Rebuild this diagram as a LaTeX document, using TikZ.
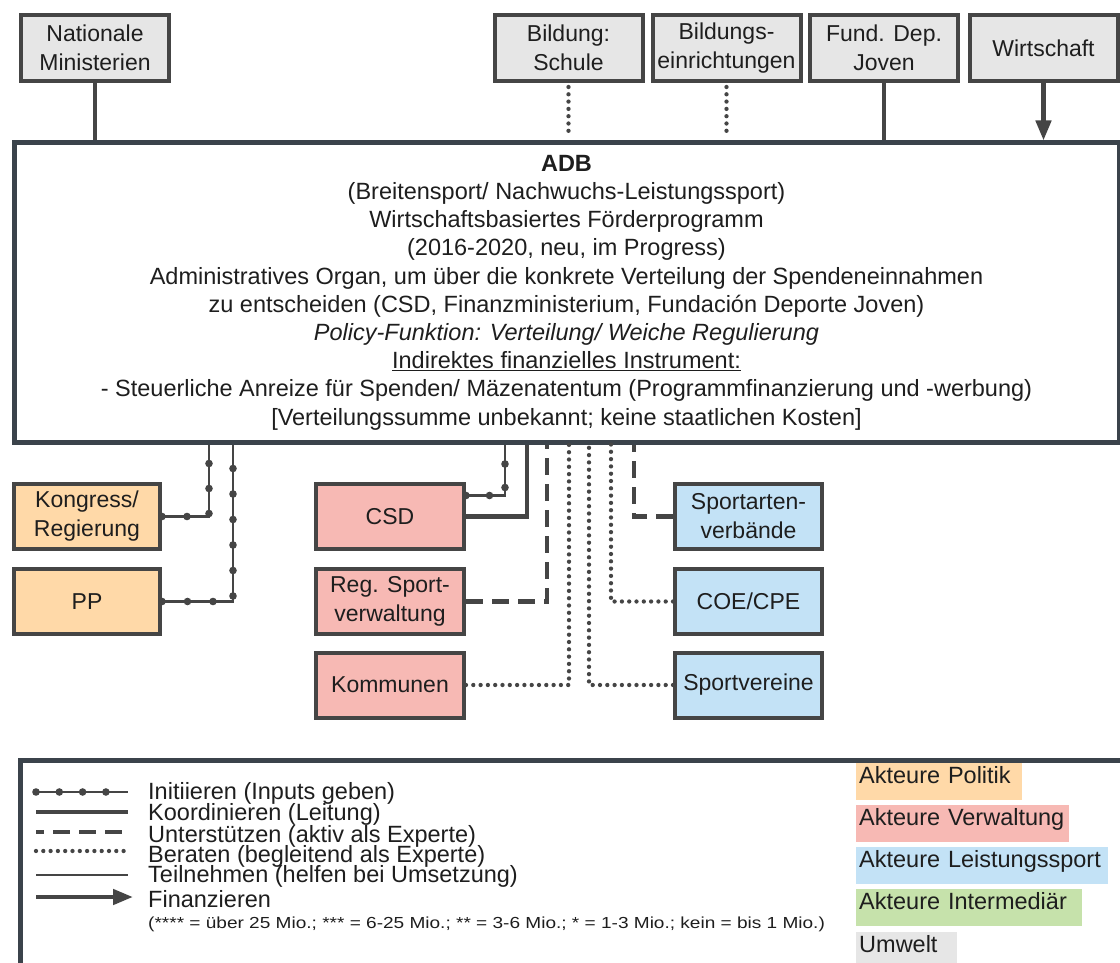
\documentclass[tikz,border=0pt]{standalone}
\usepackage{fontspec}
\setmainfont{Liberation Sans}
\usetikzlibrary{arrows.meta,decorations.markings,calc}

\definecolor{edge}{HTML}{454545}
\definecolor{frame}{HTML}{3B434B}
\definecolor{envfill}{HTML}{E6E6E6}
\definecolor{polfill}{HTML}{FFD9A8}
\definecolor{admfill}{HTML}{F7B9B4}
\definecolor{perffill}{HTML}{C3E2F6}
\definecolor{intfill}{HTML}{C6E2AB}
\definecolor{txt}{HTML}{1E1E1E}

\tikzset{
  actor/.style={draw=edge, line width=4pt, minimum height=66pt, inner sep=0pt,
    align=center, text=txt, font=\fontsize{23}{29}\selectfont},
  env/.style={actor, fill=envfill, minimum width=148pt},
  pol/.style={actor, fill=polfill, minimum width=146pt, minimum height=65pt},
  adm/.style={actor, fill=admfill, minimum width=148pt, minimum height=65pt},
  perf/.style={actor, fill=perffill, minimum width=147pt, minimum height=65pt},
  % relation types
  koord/.style={draw=edge, line width=4.5pt},
  teiln/.style={draw=edge, line width=2.5pt},
  unterst/.style={draw=edge, line width=4.5pt, dash pattern=on 17pt off 9pt},
  berat/.style={draw=edge, line width=4.3pt, line cap=round, dash pattern=on 0pt off 7.3pt},
  finanz/.style={draw=edge, line width=4.5pt, -{Triangle[length=20pt,width=15pt]}},
  initiate/.style={draw=edge, line width=2.5pt, postaction={decorate},
    decoration={markings, mark=between positions 0 and -10pt step #1 with {\fill[edge] (0,0) circle (3.8pt);}}},
  initiate/.default=25pt,
  swatch/.style={anchor=base west, inner xsep=3pt, inner ysep=0pt, text height=20pt,
    text depth=17pt, align=left, text=txt, font=\fontsize{23.5}{28}\selectfont},
  legtext/.style={anchor=base west, inner sep=0pt, text=txt, font=\fontsize{23.5}{21}\selectfont},
}

\begin{document}
\begin{tikzpicture}[x=1pt,y=-1pt]
\useasboundingbox (0,0) rectangle (1120,963);
\clip (0,0) rectangle (1120,963);
\fill[white] (0,0) rectangle (1120,963);

% environment actors on top
\node[env] (nat) at (95,48)     {Nationale\\Ministerien};
\node[env] (bs)  at (568.5,48)  {Bildung:\\Schule};
\node[env] (be)  at (726.5,48)  {Bildungs-\\einrichtungen};
\node[env] (fd)  at (884,48)    {Fund. Dep.\\Joven};
\node[env] (wi)  at (1043.5,48) {Wirtschaft};

% central programme box
\node[draw=frame, line width=5pt, fill=white, minimum width=1105pt, minimum height=299pt,
      inner sep=0pt, align=center, text=txt, font=\fontsize{23.5}{28.2}\selectfont]
  (adb) at (566.5,292.5)
  {\textbf{ADB}\\
   (Breitensport/ Nachwuchs-Leistungssport)\\
   Wirtschaftsbasiertes Förderprogramm\\
   (2016-2020, neu, im Progress)\\
   Administratives Organ, um über die konkrete Verteilung der Spendeneinnahmen\\
   zu entscheiden (CSD, Finanzministerium, Fundación Deporte Joven)\\
   \textit{Policy-Funktion: Verteilung/ Weiche Regulierung}\\
   \underline{Indirektes finanzielles Instrument:}\\
   - Steuerliche Anreize für Spenden/ Mäzenatentum (Programmfinanzierung und -werbung)\\
   {[}Verteilungssumme unbekannt; keine staatlichen Kosten{]}};

% actors below
\node[pol]  (kon) at (87,516.5)    {Kongress/\\Regierung};
\node[pol]  (pp)  at (87,601.5)    {PP};
\node[adm]  (csd) at (390,516.5)   {CSD};
\node[adm]  (reg) at (390,601.5)   {Reg. Sport-\\verwaltung};
\node[adm]  (kom) at (390,685)     {Kommunen};
\node[perf] (sa)  at (748.5,516.5) {Sportarten-\\verbände};
\node[perf] (coe) at (748.5,601.5) {COE/CPE};
\node[perf] (sv)  at (748.5,685)   {Sportvereine};

% relations to the top row
\draw[koord]  (nat.south) -- (nat.south |- adb.north);
\draw[berat]  ($(bs.south)+(0,4)$) -- ($(bs.south |- adb.north)+(0,-8)$);
\draw[berat]  ($(be.south)+(0,4)$) -- ($(be.south |- adb.north)+(0,-8)$);
\draw[koord]  (fd.south) -- (fd.south |- adb.north);
\draw[finanz] (wi.south) -- (wi.south |- adb.north);

% relations to the actors below
\draw[initiate=25pt]   (kon.east) -| ($(adb.south)+(-357.5,0)$);
\draw[initiate=25.5pt] (pp.east)  -| ($(adb.south)+(-333.5,0)$);
\draw[initiate=23.5pt] ($(csd.east)+(0,-21)$) -| ($(adb.south)+(-61.5,0)$);
\draw[koord]   (csd.east) -| ($(adb.south)+(-39.5,0)$);
\draw[unterst] (reg.east) -| ($(adb.south)+(-19.5,0)$);
\draw[berat]   (kom.east) -| ($(adb.south)+(2.5,0)$);
\draw[berat]   (sv.west)  -| ($(adb.south)+(22.5,0)$);
\draw[berat]   (coe.west) -| ($(adb.south)+(44.5,0)$);
\draw[unterst] (sa.west)  -| ($(adb.south)+(67.5,0)$);

% legend frame
\node[draw=frame, line width=5pt, outer sep=0pt, inner sep=0pt, minimum width=1120pt,
      minimum height=230pt, anchor=north west] (legend) at (20,760) {};

% legend line samples
\coordinate (l1a) at (36,792);  \coordinate (l1b) at (128,792);
\coordinate (l2a) at (36,812);  \coordinate (l2b) at (128,812);
\coordinate (l3a) at (36,832);  \coordinate (l3b) at (128,832);
\coordinate (l4a) at (36,851);  \coordinate (l4b) at (128,851);
\coordinate (l5a) at (36,875);  \coordinate (l5b) at (128,875);
\coordinate (l6a) at (36,897);  \coordinate (l6b) at (133,897);
\draw[initiate=23.3pt] (l1a) -- (l1b);
\draw[koord]   (l2a) -- (l2b);
\draw[unterst, dash phase=9pt] (l3a) -- (l3b);
\draw[berat]   (l4a) -- (l4b);
\draw[teiln]   (l5a) -- (l5b);
\draw[finanz]  (l6a) -- (l6b);

% legend texts
\node[legtext] (t1) at (148,799) {Initiieren (Inputs geben)};
\node[legtext] (t2) at (148,820) {Koordinieren (Leitung)};
\node[legtext] (t3) at (148,842) {Unterstützen (aktiv als Experte)};
\node[legtext] (t4) at (148,862) {Beraten (begleitend als Experte)};
\node[legtext] (t5) at (148,882) {Teilnehmen (helfen bei Umsetzung)};
\node[legtext] (t6) at (148,907) {Finanzieren};
\node[legtext] (t7) at (148,928) {\scalebox{1.19}[1]{\fontsize{16}{18}\selectfont (**** = über 25 Mio.; *** = 6-25 Mio.; ** = 3-6 Mio.; * = 1-3 Mio.; kein = bis 1 Mio.)}};

% colour key
\node[swatch, fill=polfill,  text width=160pt] (k1) at (856,783) {Akteure Politik};
\node[swatch, fill=admfill,  text width=207pt] (k2) at (856,825) {Akteure Verwaltung};
\node[swatch, fill=perffill, text width=246pt] (k3) at (856,867) {Akteure Leistungssport};
\node[swatch, fill=intfill,  text width=220pt] (k4) at (856,909) {Akteure Intermediär};
\node[swatch, fill=envfill,  text width=95pt]  (k5) at (856,952) {Umwelt};
\end{tikzpicture}
\end{document}
